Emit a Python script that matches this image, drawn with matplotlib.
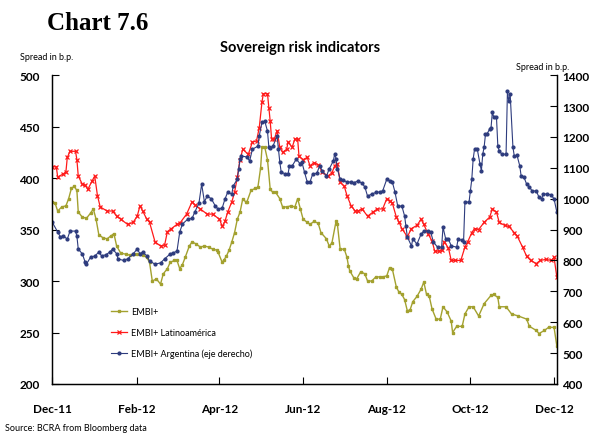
import numpy as np
import matplotlib
matplotlib.use("Agg")
import matplotlib.pyplot as plt

plt.rcParams['font.family'] = ['Lato', 'DejaVu Sans']

base = np.datetime64('2011-12-01')

# EMBI+ (left axis) - day offset from 1 Dec 2011, spread in b.p.
embi_days = [0, 2, 4, 7, 10, 12, 14, 16, 18, 19, 22, 25, 28, 30, 32, 34, 37, 40, 43, 45,
             47, 50, 54, 57, 60, 62, 66, 69, 71, 73, 76, 79, 81, 84, 86, 89, 91, 93, 95, 97,
             100, 102, 105, 108, 111, 114, 117, 120, 121, 124, 125, 127, 129, 131, 133, 135, 137, 139, 141, 142,
             145, 148, 150, 152, 153, 155, 157, 159, 161, 163, 166, 168, 171, 174, 177, 179, 181, 183, 186, 188,
             191, 194, 196, 200, 202, 204, 207, 208, 210, 213, 215, 216, 217, 220, 222, 225, 228, 230, 233, 236,
             239, 241, 244, 246, 248, 251, 253, 255, 257, 259, 261, 263, 266, 269, 271, 273, 275, 277, 280, 283,
             285, 288, 291, 292, 295, 299, 301, 304, 307, 311, 315, 320, 322, 325, 326, 331, 335, 340, 346, 348,
             353, 355, 359, 362, 366, 368]
embi_vals = [377, 376, 368, 372, 373, 380, 390, 392, 388, 367, 362, 361, 366, 370, 360, 345, 342, 341, 344, 346,
             334, 327, 326, 325, 326, 326, 325, 323, 318, 300, 302, 297, 307, 312, 318, 320, 320, 312, 316, 323,
             334, 338, 336, 333, 334, 333, 331, 330, 328, 318, 320, 324, 330, 338, 347, 360, 367, 380, 377, 377,
             388, 390, 391, 410, 430, 430, 418, 389, 386, 386, 380, 372, 372, 373, 372, 380, 370, 360, 357, 355,
             358, 356, 347, 341, 334, 337, 358, 355, 331, 331, 323, 315, 310, 303, 302, 309, 307, 300, 300, 304,
             304, 304, 305, 313, 312, 294, 289, 287, 282, 271, 272, 280, 285, 292, 299, 287, 285, 273, 263, 263,
             275, 270, 261, 250, 256, 256, 268, 275, 275, 266, 278, 286, 287, 284, 275, 275, 268, 266, 263, 256,
             252, 249, 252, 255, 255, 237]

# EMBI+ Latinoamérica (left axis)
latam_days = [0, 3, 4, 8, 10, 11, 13, 17, 18, 19, 22, 24, 26, 29, 31, 33, 35, 40, 44, 47,
              50, 55, 59, 62, 64, 66, 69, 71, 75, 79, 82, 84, 87, 91, 93, 98, 102, 104, 108, 113,
              117, 122, 124, 126, 128, 131, 133, 135, 137, 139, 143, 146, 149, 151, 153, 154, 157, 158, 159, 160,
              162, 164, 166, 168, 171, 172, 175, 177, 179, 180, 183, 186, 188, 191, 194, 197, 201, 204, 206, 208,
              210, 213, 215, 218, 221, 223, 226, 230, 234, 237, 241, 244, 246, 248, 251, 253, 255, 259, 262, 266,
              269, 271, 274, 277, 279, 282, 284, 286, 289, 291, 294, 298, 301, 303, 306, 308, 311, 315, 319, 321,
              324, 326, 330, 333, 337, 339, 343, 346, 349, 353, 356, 360, 364, 366, 368]
latam_vals = [411, 411, 401, 404, 406, 420, 426, 426, 418, 402, 394, 393, 389, 397, 402, 383, 372, 368, 368, 363,
              360, 355, 357, 363, 373, 368, 360, 357, 338, 334, 335, 348, 351, 355, 356, 365, 377, 374, 370, 365,
              365, 360, 353, 358, 367, 377, 386, 401, 418, 428, 423, 435, 436, 449, 474, 482, 482, 468, 455, 438,
              438, 446, 430, 425, 428, 435, 430, 438, 438, 421, 418, 420, 412, 415, 413, 406, 402, 405, 412, 414,
              396, 392, 383, 373, 368, 368, 370, 363, 367, 370, 370, 380, 378, 376, 362, 357, 351, 343, 351, 354,
              360, 355, 346, 339, 329, 329, 330, 338, 332, 320, 320, 320, 333, 338, 347, 351, 350, 357, 362, 370,
              367, 357, 354, 353, 347, 344, 333, 324, 320, 317, 320, 321, 320, 323, 304]

# EMBI+ Argentina (right axis)
arg_days = [0, 4, 6, 8, 11, 13, 17, 18, 19, 22, 24, 25, 28, 31, 34, 36, 39, 42, 44, 47,
            48, 52, 55, 59, 62, 64, 66, 69, 71, 75, 79, 82, 86, 88, 91, 93, 95, 99, 102, 104,
            107, 109, 111, 113, 116, 119, 121, 124, 126, 128, 131, 132, 135, 136, 137, 138, 142, 144, 146, 150,
            151, 153, 155, 157, 158, 159, 161, 164, 165, 166, 167, 170, 172, 173, 175, 178, 181, 182, 184, 186,
            188, 190, 193, 195, 197, 200, 202, 205, 206, 207, 208, 210, 212, 215, 218, 220, 223, 226, 228, 230,
            233, 236, 239, 241, 244, 246, 248, 250, 252, 255, 257, 258, 259, 262, 263, 266, 269, 271, 274, 276,
            278, 281, 284, 285, 287, 289, 291, 295, 296, 299, 300, 301, 304, 305, 306, 307, 308, 310, 312, 313,
            314, 315, 316, 317, 319, 320, 321, 322, 324, 325, 326, 328, 331, 332, 333, 334, 336, 337, 339, 341,
            342, 344, 346, 348, 350, 353, 355, 357, 358, 361, 364, 366, 368]
arg_vals = [924, 892, 876, 880, 869, 895, 895, 879, 837, 821, 795, 788, 811, 814, 827, 815, 818, 827, 837, 822,
            805, 800, 805, 821, 837, 822, 827, 815, 798, 788, 792, 805, 821, 824, 830, 892, 918, 934, 936, 957,
            985, 1047, 990, 1008, 1000, 976, 966, 970, 999, 1021, 1015, 1041, 1063, 1096, 1128, 1138, 1135, 1122, 1160, 1170,
            1203, 1248, 1251, 1219, 1167, 1165, 1170, 1203, 1160, 1118, 1086, 1080, 1080, 1106, 1106, 1128, 1112, 1120, 1086, 1054,
            1054, 1080, 1082, 1106, 1090, 1073, 1096, 1122, 1144, 1130, 1096, 1063, 1060, 1054, 1054, 1052, 1057, 1050, 1038, 1008,
            1015, 1020, 1022, 1025, 1063, 1058, 1055, 1021, 976, 976, 944, 911, 876, 847, 870, 853, 885, 895, 895, 892,
            860, 843, 843, 908, 869, 869, 847, 843, 869, 865, 860, 989, 989, 1025, 1063, 1128, 1160, 1160, 1112, 1090,
            1144, 1167, 1209, 1209, 1225, 1228, 1280, 1264, 1264, 1170, 1154, 1144, 1144, 1348, 1316, 1338, 1167, 1138, 1140, 1106,
            1073, 1070, 1047, 1038, 1025, 1025, 1005, 1000, 1015, 1015, 1012, 999, 957]

tick_dates = ['2011-12-01', '2012-02-01', '2012-04-01', '2012-06-01', '2012-08-01', '2012-10-01', '2012-12-01']
tick_labels = ['Dec-11', 'Feb-12', 'Apr-12', 'Jun-12', 'Aug-12', 'Oct-12', 'Dec-12']

def to_dates(days):
    return base + np.array(days).astype('timedelta64[D]')

olive = '#A3A12F'
red = '#FF1A1A'
navy = '#2E3C7E'

fig = plt.figure(figsize=(6, 4.35), dpi=100)
ax = fig.add_axes([0.087, 0.115, 0.841, 0.71])
ax2 = ax.twinx()

l1, = ax.plot(to_dates(embi_days), embi_vals, color=olive, lw=1.0, marker='s', ms=1.8,
              mec=olive, mfc=olive, label='EMBI+')
l2, = ax.plot(to_dates(latam_days), latam_vals, color=red, lw=0.9, marker='x', ms=3.5,
              mew=0.9, label='EMBI+ Latinoamérica')
l3, = ax2.plot(to_dates(arg_days), arg_vals, color=navy, lw=0.8, marker='o', ms=2,
               label='EMBI+ Argentina (eje derecho)')

ax.set_xlim(base, base + np.timedelta64(368, 'D'))
ax.set_ylim(200, 500)
ax2.set_ylim(400, 1400)
ax.set_yticks(np.arange(200, 501, 50))
ax2.set_yticks(np.arange(400, 1401, 100))
ax.set_xticks(np.array(tick_dates, dtype='datetime64[D]'))
ax.set_xticklabels(tick_labels)

for a in (ax, ax2):
    a.spines['top'].set_visible(False)
    for s in a.spines.values():
        s.set_linewidth(0.9)
ax.tick_params(axis='both', direction='in', length=5, width=0.8, labelsize=8.5)
ax.tick_params(axis='y', pad=9)
ax.tick_params(axis='x', pad=14)
ax2.tick_params(axis='y', direction='in', length=5, width=0.8, labelsize=8.5, pad=4)
for lab in ax.get_xticklabels() + ax.get_yticklabels() + ax2.get_yticklabels():
    lab.set_fontweight('bold')

ax.legend(handles=[l1, l2, l3], loc='upper left', bbox_to_anchor=(0.1, 0.275), frameon=False,
          fontsize=6.5, handlelength=1.8, labelspacing=1.3, handletextpad=0.4)

fig.text(0.078, 0.945, 'Chart 7.6', family=['Liberation Serif'], fontsize=18, fontweight='bold', va='center')
fig.text(0.5, 0.89, 'Sovereign risk indicators', fontsize=10.5, fontweight='bold', ha='center', va='center')
fig.text(0.033, 0.867, 'Spread in b.p.', fontsize=6.5, va='center')
fig.text(0.86, 0.845, 'Spread in b.p.', fontsize=6.5, va='center')
fig.text(0.008, 0.015, 'Source: BCRA from Bloomberg data', fontsize=6.5, va='center')

fig.savefig('out.png', dpi=100)
